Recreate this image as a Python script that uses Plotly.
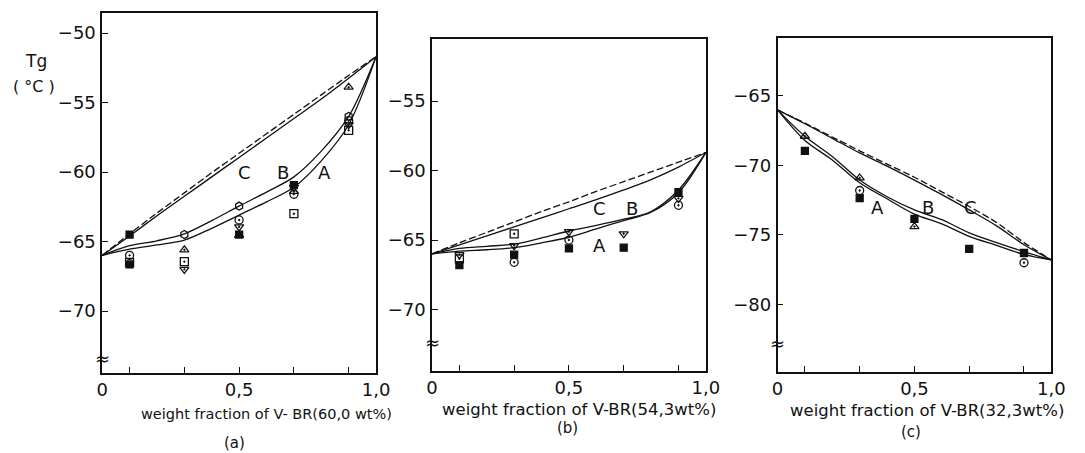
import plotly.graph_objects as go

# ---- composition grid for the fitted Tg curves ----
X_CURVE = [0.0, 0.1, 0.2, 0.3, 0.4, 0.5, 0.6, 0.7, 0.8, 0.9, 1.0]

# (a) V-BR 60,0 wt%
A_LIN = [-66.0, -64.45, -62.95, -61.5, -60.05, -58.65, -57.25, -55.85, -54.45, -53.05, -51.7]
A_C = [-66.0, -64.6, -63.15, -61.75, -60.35, -58.95, -57.55, -56.15, -54.75, -53.25, -51.7]
A_B = [-66.0, -65.3, -64.95, -64.45, -63.5, -62.45, -61.45, -60.35, -58.5, -56.0, -51.7]
A_A = [-66.0, -65.55, -65.25, -64.9, -64.05, -63.1, -62.15, -61.1, -59.2, -56.6, -51.7]

# (b) V-BR 54,3 wt%
B_LIN = [-66.0, -65.2, -64.45, -63.7, -62.95, -62.25, -61.5, -60.8, -60.1, -59.4, -58.7]
B_C = [-66.0, -65.35, -64.7, -64.05, -63.4, -62.75, -62.1, -61.4, -60.65, -59.75, -58.7]
B_B = [-66.0, -65.6, -65.45, -65.3, -64.85, -64.35, -63.95, -63.5, -62.95, -61.4, -58.7]
B_A = [-66.0, -65.8, -65.7, -65.55, -65.2, -64.8, -64.2, -63.6, -63.0, -61.6, -58.7]

# (c) V-BR 32,3 wt%
C_LIN = [-66.0, -66.95, -67.95, -68.95, -69.9, -70.85, -71.9, -72.95, -74.1, -75.55, -76.8]
C_C = [-66.0, -67.0, -68.05, -69.1, -70.05, -71.05, -72.1, -73.2, -74.35, -75.7, -76.8]
C_B = [-66.0, -67.9, -69.35, -71.05, -72.25, -73.2, -73.9, -74.85, -75.55, -76.2, -76.8]
C_A = [-66.0, -68.2, -69.6, -71.25, -72.4, -73.5, -74.2, -75.1, -75.75, -76.4, -76.8]

# ---- measured Tg (DSC), grouped by symbol ----
PTS_A = {
    "hexagon-open": ([0.3, 0.5, 0.9], [-64.5, -62.45, -56.0]),
    "circle-open-dot": ([0.1, 0.5, 0.7, 0.9], [-66.0, -63.45, -61.6, -56.3]),
    "square-open-dot": ([0.1, 0.3, 0.7, 0.9], [-66.5, -66.45, -63.0, -57.0]),
    "triangle-up-open-dot": ([0.3, 0.5, 0.7, 0.9], [-65.6, -64.55, -61.4, -53.9]),
    "triangle-down-open-dot": ([0.3, 0.5, 0.7, 0.9], [-67.0, -63.95, -61.1, -56.6]),
    "square": ([0.1, 0.1, 0.5, 0.7], [-64.5, -66.65, -64.5, -60.95]),
}
PTS_B = {
    "triangle-down-open-dot": ([0.1, 0.3, 0.5, 0.7, 0.9], [-66.05, -65.4, -64.4, -64.55, -62.0]),
    "square-open-dot": ([0.1, 0.3], [-66.35, -64.55]),
    "circle-open-dot": ([0.3, 0.5, 0.9], [-66.6, -65.0, -62.5]),
    "square": ([0.1, 0.3, 0.5, 0.7, 0.9], [-66.8, -66.05, -65.6, -65.55, -61.55]),
}
PTS_C = {
    "triangle-up-open-dot": ([0.1, 0.3, 0.5], [-67.9, -70.9, -74.4]),
    "circle-open-dot": ([0.3, 0.9], [-71.8, -77.0]),
    "square": ([0.1, 0.3, 0.5, 0.7, 0.9], [-68.95, -72.35, -73.85, -76.0, -76.3]),
}

Y_TICKS_A = [-50, -55, -60, -65, -70]
Y_TICKS_B = [-55, -60, -65, -70]
Y_TICKS_C = [-65, -70, -75, -80]
X_TICKS = [0, 0.1, 0.3, 0.5, 0.7, 0.9, 1.0]
X_TICKTEXT = ["0", "", "", "0,5", "", "", "1,0"]

X_TITLES = [
    "weight fraction of V- BR(60,0 wt%)",
    "weight fraction of V-BR(54,3wt%)",
    "weight fraction of V-BR(32,3wt%)",
]
PANEL_TAGS = ["(a)", "(b)", "(c)"]

FONT = "DejaVu Sans"
INK = "#111111"
W, H = 1085, 453

fig = go.Figure()

panels = [
    dict(lin=A_LIN, c=A_C, b=A_B, a=A_A, pts=PTS_A, yt=Y_TICKS_A,
         px=(98, 377), py=(13, 373), yr=(-74.46, -48.56), brk=-73.45,
         lab={"C": (0.52, -60.0), "B": (0.66, -60.0), "A": (0.81, -60.0)}),
    dict(lin=B_LIN, c=B_C, b=B_B, a=B_A, pts=PTS_B, yt=Y_TICKS_B,
         px=(434, 713), py=(39, 371), yr=(-74.42, -50.54), brk=-72.4,
         lab={"C": (0.61, -62.7), "B": (0.73, -62.7), "A": (0.61, -65.4)}),
    dict(lin=C_LIN, c=C_C, b=C_B, a=C_A, pts=PTS_C, yt=Y_TICKS_C,
         px=(786, 1065), py=(38, 372), yr=(-84.86, -60.83), brk=-82.8,
         lab={"A": (0.366, -73.05), "B": (0.55, -73.05), "C": (0.705, -73.05)}),
]

annotations = []
for i, p in enumerate(panels):
    n = "" if i == 0 else str(i + 1)
    xa, ya = "x" + n, "y" + n

    # reference (linear) line, then the three fitted curves
    fig.add_trace(go.Scatter(x=X_CURVE, y=p["lin"], mode="lines", xaxis=xa, yaxis=ya,
                             line=dict(color=INK, width=1.3, dash="7px,3px", shape="spline", smoothing=0.6),
                             showlegend=False, hoverinfo="skip"))
    for key in ("c", "b", "a"):
        fig.add_trace(go.Scatter(x=X_CURVE, y=p[key], mode="lines", xaxis=xa, yaxis=ya,
                                 line=dict(color=INK, width=1.3, shape="spline", smoothing=0.9),
                                 showlegend=False, hoverinfo="skip"))
    for sym, (xs, ys) in p["pts"].items():
        filled = "open" not in sym
        fig.add_trace(go.Scatter(
            x=xs, y=ys, mode="markers", xaxis=xa, yaxis=ya, showlegend=False,
            marker=dict(symbol=sym, size=7 if filled else 8, color=INK,
                        line=dict(color=INK, width=1.3))))

    dom_x = [p["px"][0] / W, p["px"][1] / W]
    dom_y = [(H - p["py"][1]) / H, (H - p["py"][0]) / H]
    fig.update_layout(**{
        ("xaxis" + n): dict(domain=dom_x, range=[0, 1], anchor=ya, tickvals=X_TICKS,
                            ticktext=X_TICKTEXT, ticks="inside", ticklen=6, tickwidth=1.3,
                            tickcolor=INK, showline=True, linecolor=INK, linewidth=1.5,
                            mirror=True, showgrid=False, zeroline=False,
                            tickfont=dict(family=FONT, size=18, color=INK)),
        ("yaxis" + n): dict(domain=dom_y, range=list(p["yr"]), anchor=xa,
                            tickvals=p["yt"], ticktext=["\u2212" + str(-v) for v in p["yt"]],
                            ticks="inside", ticklen=6, tickwidth=1.3, tickcolor=INK,
                            showline=True, linecolor=INK, linewidth=1.5, mirror=True,
                            showgrid=False, zeroline=False, ticklabelstandoff=1,
                            tickfont=dict(family=FONT, size=18, color=INK)),
    })

    for txt, (lx, ly) in p["lab"].items():
        annotations.append(dict(text=txt, x=lx, y=ly, xref=xa, yref=ya, showarrow=False,
                                font=dict(family=FONT, size=18, color=INK)))
    # axis break symbol
    annotations.append(dict(text="≈", x=0, y=p["brk"], xref=xa, yref=ya, showarrow=False,
                            font=dict(family=FONT, size=18, color=INK)))

# axis titles and panel tags (pixel centres)
title_pos = [(265, 414), (584, 409), (938, 410)]
title_size = [14.5, 16.5, 16.5]
tag_pos = [(233, 443), (572, 428), (922, 432)]
for t, (tx, ty), fs, tag, (gx, gy) in zip(X_TITLES, title_pos, title_size, PANEL_TAGS, tag_pos):
    annotations.append(dict(text=t, x=tx / W, y=1 - ty / H, xref="paper", yref="paper",
                            xanchor="center", yanchor="middle", showarrow=False,
                            font=dict(family=FONT, size=fs, color=INK)))
    annotations.append(dict(text=tag, x=gx / W, y=1 - gy / H, xref="paper", yref="paper",
                            xanchor="center", yanchor="middle", showarrow=False,
                            font=dict(family=FONT, size=15, color=INK)))

annotations.append(dict(text="Tg", x=31 / W, y=1 - 61 / H, xref="paper", yref="paper",
                        xanchor="center", yanchor="middle", showarrow=False,
                        font=dict(family=FONT, size=17, color=INK)))
annotations.append(dict(text="( °C )", x=29 / W, y=1 - 87 / H, xref="paper", yref="paper",
                        xanchor="center", yanchor="middle", showarrow=False,
                        font=dict(family=FONT, size=16, color=INK)))

fig.update_layout(width=W, height=H, margin=dict(l=0, r=0, t=0, b=0),
                  paper_bgcolor="white", plot_bgcolor="white",
                  annotations=annotations, showlegend=False)

fig.write_html("out.html")
